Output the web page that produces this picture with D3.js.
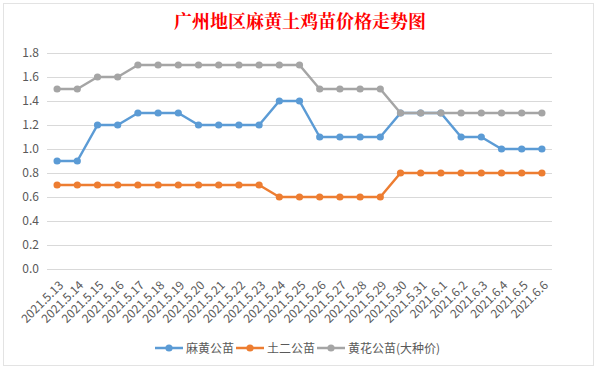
<!DOCTYPE html>
<html><head><meta charset="utf-8">
<script src="https://cdn.jsdelivr.net/npm/d3@7"></script>
<style>body{margin:0;background:#fff}svg{display:block}</style>
</head><body>
<svg id="c" width="599" height="369"></svg>
<script>
const title = "广州地区麻黄土鸡苗价格走势图";
const categories = ["2021.5.13","2021.5.14","2021.5.15","2021.5.16","2021.5.17","2021.5.18","2021.5.19","2021.5.20","2021.5.21","2021.5.22","2021.5.23","2021.5.24","2021.5.25","2021.5.26","2021.5.27","2021.5.28","2021.5.29","2021.5.30","2021.5.31","2021.6.1","2021.6.2","2021.6.3","2021.6.4","2021.6.5","2021.6.6"];
const seriesNames = ["麻黄公苗","土二公苗","黄花公苗(大种价)"];
const mahuang = [0.9,0.9,1.2,1.2,1.3,1.3,1.3,1.2,1.2,1.2,1.2,1.4,1.4,1.1,1.1,1.1,1.1,1.3,1.3,1.3,1.1,1.1,1.0,1.0,1.0];
const tuer = [0.7,0.7,0.7,0.7,0.7,0.7,0.7,0.7,0.7,0.7,0.7,0.6,0.6,0.6,0.6,0.6,0.6,0.8,0.8,0.8,0.8,0.8,0.8,0.8,0.8];
const huanghua = [1.5,1.5,1.6,1.6,1.7,1.7,1.7,1.7,1.7,1.7,1.7,1.7,1.7,1.5,1.5,1.5,1.5,1.3,1.3,1.3,1.3,1.3,1.3,1.3,1.3];
const yTicks = [0,0.2,0.4,0.6,0.8,1.0,1.2,1.4,1.6,1.8];
const colors = ["#5B9BD5","#ED7D31","#A5A5A5"];
const series = [mahuang, tuer, huanghua];

const svg = d3.select("#c");
const font = "'Noto Sans CJK SC','Microsoft YaHei',sans-serif";
svg.append("rect").attr("x",3.5).attr("y",3.5).attr("width",590).attr("height",362)
  .attr("fill","#fff").attr("stroke","#e3e3e3");

const x = d3.scaleBand().domain(categories).range([47,552]);
const y = d3.scaleLinear().domain([0,1.8]).range([269,53]);

svg.append("text").attr("x",300).attr("y",28).attr("text-anchor","middle")
  .attr("fill","#FF0000").attr("font-size",18).attr("font-weight","bold")
  .attr("font-family","'Noto Serif CJK SC','Noto Sans CJK SC',serif").text(title);

// grid
const yAxis = d3.axisLeft(y).tickValues(yTicks).tickFormat(d3.format(".1f")).tickSize(-(552-47)).tickPadding(8);
const ga = svg.append("g").attr("transform","translate(47,0)").call(yAxis);
ga.select(".domain").remove();
ga.selectAll(".tick line").attr("stroke","#D9D9D9").attr("stroke-width",1);
ga.selectAll(".tick text").attr("fill","#595959").attr("font-size",12).attr("font-family",font);

// x labels
const xAxis = d3.axisBottom(x).tickSize(0).tickPadding(0);
const gx = svg.append("g").attr("transform","translate(0,269)").call(xAxis);
gx.select(".domain").remove();
gx.selectAll(".tick text").attr("fill","#595959").attr("font-size",12).attr("font-family",font)
  .attr("text-anchor","end").attr("dy",0).attr("transform","translate(7,17) rotate(-45)");

const line = d3.line().x((d,i)=>x(categories[i])+x.bandwidth()/2).y(d=>y(d));
series.forEach((s,k)=>{
  const g = svg.append("g");
  g.append("path").attr("d",line(s)).attr("fill","none").attr("stroke",colors[k])
    .attr("stroke-width",2.5).attr("stroke-linejoin","round");
  g.selectAll("circle").data(s).enter().append("circle")
    .attr("cx",(d,i)=>x(categories[i])+x.bandwidth()/2).attr("cy",d=>y(d)).attr("r",3.6)
    .attr("fill",colors[k]);
});

// legend
const legX = [155, 236, 317];
seriesNames.forEach((n,k)=>{
  const g = svg.append("g").attr("transform",`translate(${legX[k]},348)`);
  g.append("line").attr("x1",0).attr("x2",28).attr("y1",0).attr("y2",0).attr("stroke",colors[k]).attr("stroke-width",2.5);
  g.append("circle").attr("cx",14).attr("cy",0).attr("r",3.6).attr("fill",colors[k]);
  g.append("text").attr("x",31).attr("y",4.5).attr("fill","#595959").attr("font-size",12).attr("font-family",font).text(n);
});
</script>
</body></html>
